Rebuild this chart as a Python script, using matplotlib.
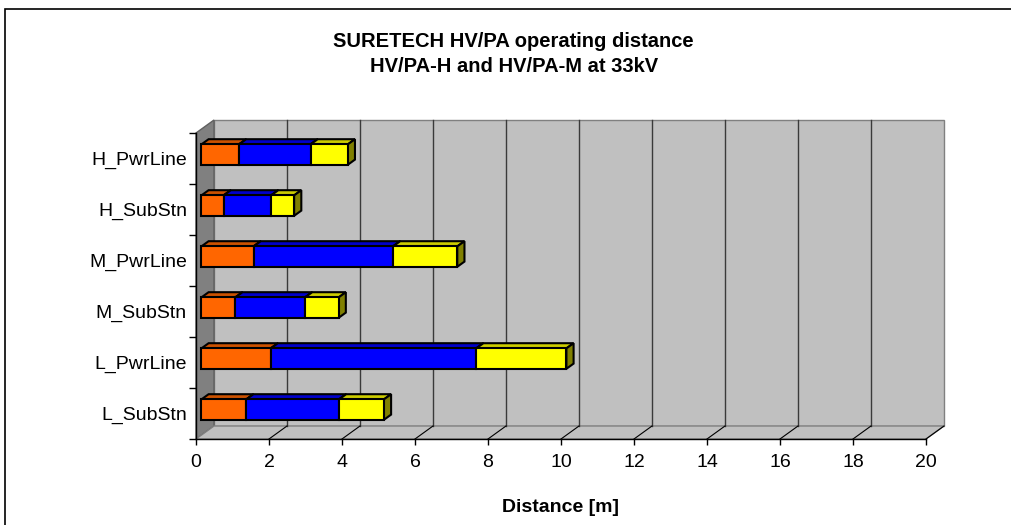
# 3D-style stacked horizontal bars, Excel look
import matplotlib.pyplot as plt
import numpy as np
from matplotlib.patches import Polygon, Rectangle
from matplotlib.lines import Line2D
from matplotlib.transforms import IdentityTransform, offset_copy

plt.rcParams['font.family'] = ['Liberation Sans', 'DejaVu Sans']

categories = ['L_SubStn', 'L_PwrLine', 'M_SubStn', 'M_PwrLine', 'H_SubStn', 'H_PwrLine']
orange = [1.23, 1.90, 0.93, 1.43, 0.61, 1.03]
blue = [2.54, 5.63, 1.91, 3.82, 1.30, 1.96]
yellow = [1.23, 2.47, 0.92, 1.76, 0.63, 1.02]
x_ticks = np.arange(0, 21, 2)

W, H = 1011, 525
fig = plt.figure(figsize=(W / 100, H / 100), dpi=100)
ax = fig.add_axes([196 / W, 1 - 439 / H, 730 / W, 306 / H])
ax.patch.set_visible(False)
xmax = 20
y0, y1 = -0.5, len(categories) - 0.5
ax.set_xlim(0, xmax)
ax.set_ylim(y0, y1)

D = np.array([18.0, 13.0])  # depth of the box, pixels


def P(x, y, d):
    return ax.transData.transform((x, y)) + d * D


def face(pts, fc, ec, lw=1.0, z=1.0):
    ax.add_patch(Polygon(pts, closed=True, fc=fc, ec=ec, lw=lw,
                         transform=IdentityTransform(), clip_on=False, zorder=z))


def line(a, b, color, lw=1.0, z=0.5):
    ax.add_line(Line2D([a[0], b[0]], [a[1], b[1]], color=color, lw=lw,
                       transform=IdentityTransform(), clip_on=False, zorder=z))


# walls and floor
face([P(0, y0, 1), P(xmax, y0, 1), P(xmax, y1, 1), P(0, y1, 1)], '#C0C0C0', '#808080', z=0.1)
face([P(0, y0, 0), P(0, y1, 0), P(0, y1, 1), P(0, y0, 1)], '#808080', '#606060', z=0.2)
face([P(0, y0, 0), P(xmax, y0, 0), P(xmax, y0, 1), P(0, y0, 1)], '#C0C0C0', '#808080', z=0.2)
for x in x_ticks[1:-1]:
    line(P(x, y0, 1), P(x, y1, 1), '#3a3a3a', 1.0, 0.3)
for x in x_ticks[1:]:
    line(P(x, y0, 0), P(x, y0, 1), 'black', 0.8, 0.3)

# bars
f0, f1 = 0.3, 0.7
h = 0.4
front = offset_copy(ax.transData, fig=fig, x=f0 * D[0], y=f0 * D[1], units='dots')
series = [(orange, '#FF6600', '#CC5200', '#993D00'),
          (blue, '#0000FF', '#0000CC', '#000080'),
          (yellow, '#FFFF00', '#CCCC00', '#808000')]
ypos = np.arange(len(categories))
left = np.zeros(len(categories))
for i, (vals, fc, top_c, side_c) in enumerate(series):
    z = 2 + i * 0.1
    for y, l, v in zip(ypos, left, vals):
        r = l + v
        face([P(l, y + h / 2, f0), P(r, y + h / 2, f0), P(r, y + h / 2, f1), P(l, y + h / 2, f1)],
             top_c, 'black', 1.5, z)
        face([P(r, y - h / 2, f0), P(r, y + h / 2, f0), P(r, y + h / 2, f1), P(r, y - h / 2, f1)],
             side_c, 'black', 1.5, z)
    ax.barh(ypos, vals, left=left, height=h, color=fc, edgecolor='black', lw=1.5,
            transform=front, zorder=z + 0.05, clip_on=False)
    left = left + np.array(vals)

ax.set_xlim(0, xmax)
ax.set_ylim(y0, y1)

# axes
for s in ['top', 'right']:
    ax.spines[s].set_visible(False)
for s in ['left', 'bottom']:
    ax.spines[s].set_color('black')
    ax.spines[s].set_linewidth(1)
    ax.spines[s].set_zorder(5)
ax.set_xticks(x_ticks)
ax.tick_params(axis='x', length=4, width=1, pad=6.8, labelsize=14)
ax.set_yticks(np.arange(y0, y1 + 0.1, 1))
ax.set_yticklabels([])
ax.set_yticks(ypos, minor=True)
ax.set_yticklabels(categories, minor=True)
ax.tick_params(axis='y', which='major', length=5, width=1)
ax.tick_params(axis='y', which='minor', length=0, pad=6.5, labelsize=14)

# texts
fig.text(513.6 / W, 1 - 46.7 / H, 'SURETECH HV/PA operating distance',
         ha='center', va='baseline', fontsize=14.5, fontweight='bold')
fig.text(513.6 / W, 1 - 71.7 / H, 'HV/PA-H and HV/PA-M at 33kV',
         ha='center', va='baseline', fontsize=14.5, fontweight='bold')
fig.text(561 / W, 1 - 511.7 / H, 'Distance [m]',
         ha='center', va='baseline', fontsize=14, fontweight='bold')

# chart border
fig.patches.append(Rectangle((5 / W, -0.1), 1.2, 1 - 9 / H + 0.1, transform=fig.transFigure,
                             fill=False, ec='black', lw=1.2))

plt.savefig('out.png', dpi=100)
